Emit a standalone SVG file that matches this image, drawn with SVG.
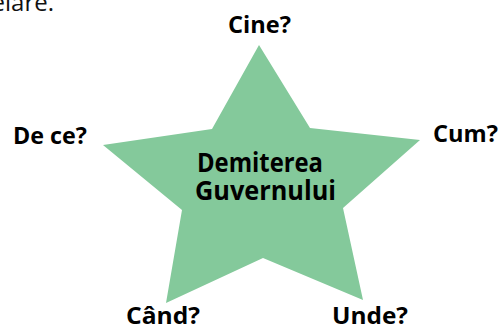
<svg xmlns="http://www.w3.org/2000/svg" width="500" height="327" viewBox="0 0 500 327">
<style>
.lbl{font-family:"Open Sans","Noto Sans","Liberation Sans",sans-serif;font-weight:bold;font-size:23px;fill:#000}
.ctr{font-family:"Open Sans","Noto Sans","Liberation Sans",sans-serif;font-weight:bold;font-size:26px;fill:#000}
.top{font-family:"Open Sans","Noto Sans","Liberation Sans",sans-serif;font-size:24px;fill:#111}
</style>
<rect width="500" height="327" fill="#fff"/>
<text class="top" x="54" y="11" text-anchor="end">elare.</text>
<g id="star">
<polygon points="259,45 310,128 420,140 343,208 363,300 263,258 166,303 182,210 103,145 212,129" fill="#84c99b"/>
<text class="ctr" x="197" y="172" textLength="126" lengthAdjust="spacingAndGlyphs">Demiterea</text>
<text class="ctr" x="195" y="200" textLength="141" lengthAdjust="spacingAndGlyphs">Guvernului</text>
</g>
<g id="cine"><text class="lbl" x="228" y="33" textLength="63" lengthAdjust="spacingAndGlyphs">Cine?</text></g>
<g id="dece"><text class="lbl" x="13" y="144" textLength="74" lengthAdjust="spacingAndGlyphs">De ce?</text></g>
<g id="cum"><text class="lbl" x="433" y="142" textLength="65" lengthAdjust="spacingAndGlyphs">Cum?</text></g>
<g id="cand"><text class="lbl" x="126" y="324" textLength="74" lengthAdjust="spacingAndGlyphs">Când?</text></g>
<g id="unde"><text class="lbl" x="332" y="324" textLength="76" lengthAdjust="spacingAndGlyphs">Unde?</text></g>
<g id="connectors"></g>
</svg>
